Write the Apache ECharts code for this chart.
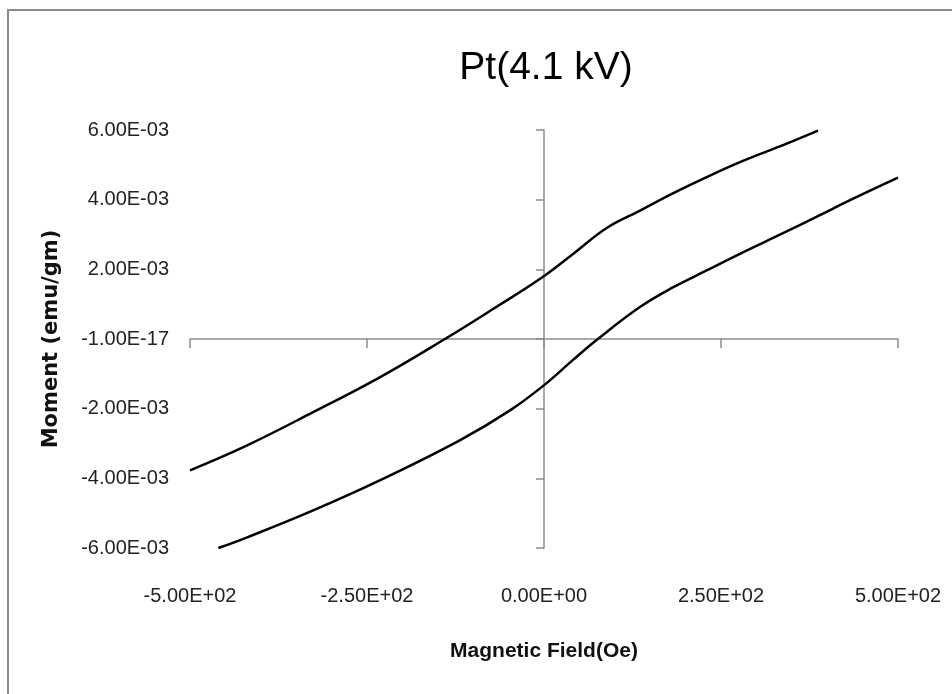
<!DOCTYPE html>
<html>
<head>
<meta charset="utf-8">
<title>Pt(4.1 kV)</title>
<script src="https://cdn.jsdelivr.net/npm/echarts@6.0.0/dist/echarts.min.js"></script>
<style>
  html, body { margin: 0; padding: 0; background: #fff; }
  #chart { width: 952px; height: 694px; position: relative; }
  .frame {
    position: absolute; left: 7px; top: 9px; right: 0; bottom: 0;
    border-left: 2px solid #8a8a8a; border-top: 2px solid #8a8a8a;
    pointer-events: none;
  }
</style>
</head>
<body>
<div id="chart"></div>
<div class="frame"></div>
<script>
// 坐标轴刻度
const xTicks = [-500, -250, 0, 250, 500];
const xTickLabels = ['-5.00E+02', '-2.50E+02', '0.00E+00', '2.50E+02', '5.00E+02'];
const yTicks = [-0.006, -0.004, -0.002, 0, 0.002, 0.004, 0.006];
const yTickLabels = ['-6.00E-03', '-4.00E-03', '-2.00E-03', '-1.00E-17', '2.00E-03', '4.00E-03', '6.00E-03'];

// 上支
const upperField = [-500, -420, -326, -232, -140, -72, -6, 41, 88, 135, 182, 229, 276, 342, 387];
const upperMoment = [-0.00377, -0.00306, -0.00210, -0.00110, 0, 0.00086, 0.00172, 0.00244, 0.00318, 0.00368, 0.00418, 0.00464, 0.00507, 0.00560, 0.00598];

// 下支
const lowerField = [-460, -420, -326, -232, -119, -48, 1, 41, 76, 135, 182, 229, 276, 342, 389, 436, 500];
const lowerMoment = [-0.00600, -0.00570, -0.00492, -0.00406, -0.00291, -0.00205, -0.00131, -0.00060, 0, 0.00091, 0.00148, 0.00196, 0.00244, 0.00308, 0.00355, 0.00402, 0.00463];

const labelFont = "'Liberation Sans', 'Noto Sans', sans-serif";
const axisGray = '#8c8c8c';

const pickLabel = (ticks, labels) => v => {
  const i = ticks.findIndex(t => Math.abs(t - v) < 1e-9);
  return i >= 0 ? labels[i] : '';
};

const option = {
  animation: false,
  backgroundColor: '#fff',
  title: {
    text: 'Pt(4.1 kV)',
    left: 541,
    top: 44,
    textAlign: 'center',
    textStyle: {
      fontFamily: labelFont,
      fontSize: 39,
      fontWeight: 'normal',
      color: '#000'
    }
  },
  grid: {
    left: 190,
    right: 54,
    top: 130,
    bottom: 146
  },
  xAxis: [
    {
      // 标签 + 轴名
      type: 'value',
      min: -500,
      max: 500,
      interval: 250,
      position: 'bottom',
      axisLine: { show: false, onZero: false },
      axisTick: { show: false },
      splitLine: { show: false },
      axisLabel: {
        margin: 38,
        fontFamily: labelFont,
        fontSize: 20,
        color: '#222',
        formatter: pickLabel(xTicks, xTickLabels)
      },
      name: 'Magnetic Field(Oe)',
      nameLocation: 'middle',
      nameGap: 93,
      nameTextStyle: {
        fontFamily: labelFont,
        fontSize: 21,
        fontWeight: 'bold',
        color: '#111'
      }
    },
    {
      // 零线
      type: 'value',
      min: -500,
      max: 500,
      interval: 250,
      position: 'bottom',
      axisLine: { show: true, onZero: true, lineStyle: { color: axisGray, width: 1.5 } },
      axisTick: { show: true, length: 9, lineStyle: { color: axisGray, width: 1.5 } },
      axisLabel: { show: false },
      splitLine: { show: false }
    }
  ],
  yAxis: [
    {
      type: 'value',
      min: -0.006,
      max: 0.006,
      interval: 0.002,
      position: 'left',
      axisLine: { show: false, onZero: false },
      axisTick: { show: false },
      splitLine: { show: false },
      axisLabel: {
        margin: 21,
        fontFamily: labelFont,
        fontSize: 20,
        color: '#222',
        formatter: pickLabel(yTicks, yTickLabels)
      },
      name: 'Moment (emu/gm)',
      nameLocation: 'middle',
      nameGap: 128,
      nameTextStyle: {
        fontFamily: 'DejaVu Sans',
        fontSize: 21,
        fontWeight: 'bold',
        color: '#111'
      }
    },
    {
      type: 'value',
      min: -0.006,
      max: 0.006,
      interval: 0.002,
      position: 'left',
      axisLine: { show: true, onZero: true, lineStyle: { color: axisGray, width: 1.5 } },
      axisTick: { show: true, length: 8, lineStyle: { color: axisGray, width: 1.5 } },
      axisLabel: { show: false },
      splitLine: { show: false }
    }
  ],
  series: [
    {
      name: 'upper',
      type: 'line',
      xAxisIndex: 0,
      yAxisIndex: 0,
      smooth: 0.4,
      showSymbol: false,
      clip: true,
      lineStyle: { color: '#000', width: 2.5 },
      data: upperField.map((x, i) => [x, upperMoment[i]])
    },
    {
      name: 'lower',
      type: 'line',
      xAxisIndex: 0,
      yAxisIndex: 0,
      smooth: 0.4,
      showSymbol: false,
      clip: true,
      lineStyle: { color: '#000', width: 2.5 },
      data: lowerField.map((x, i) => [x, lowerMoment[i]])
    }
  ]
};

const myChart = echarts.init(document.getElementById('chart'));
myChart.setOption(option);
</script>
</body>
</html>
